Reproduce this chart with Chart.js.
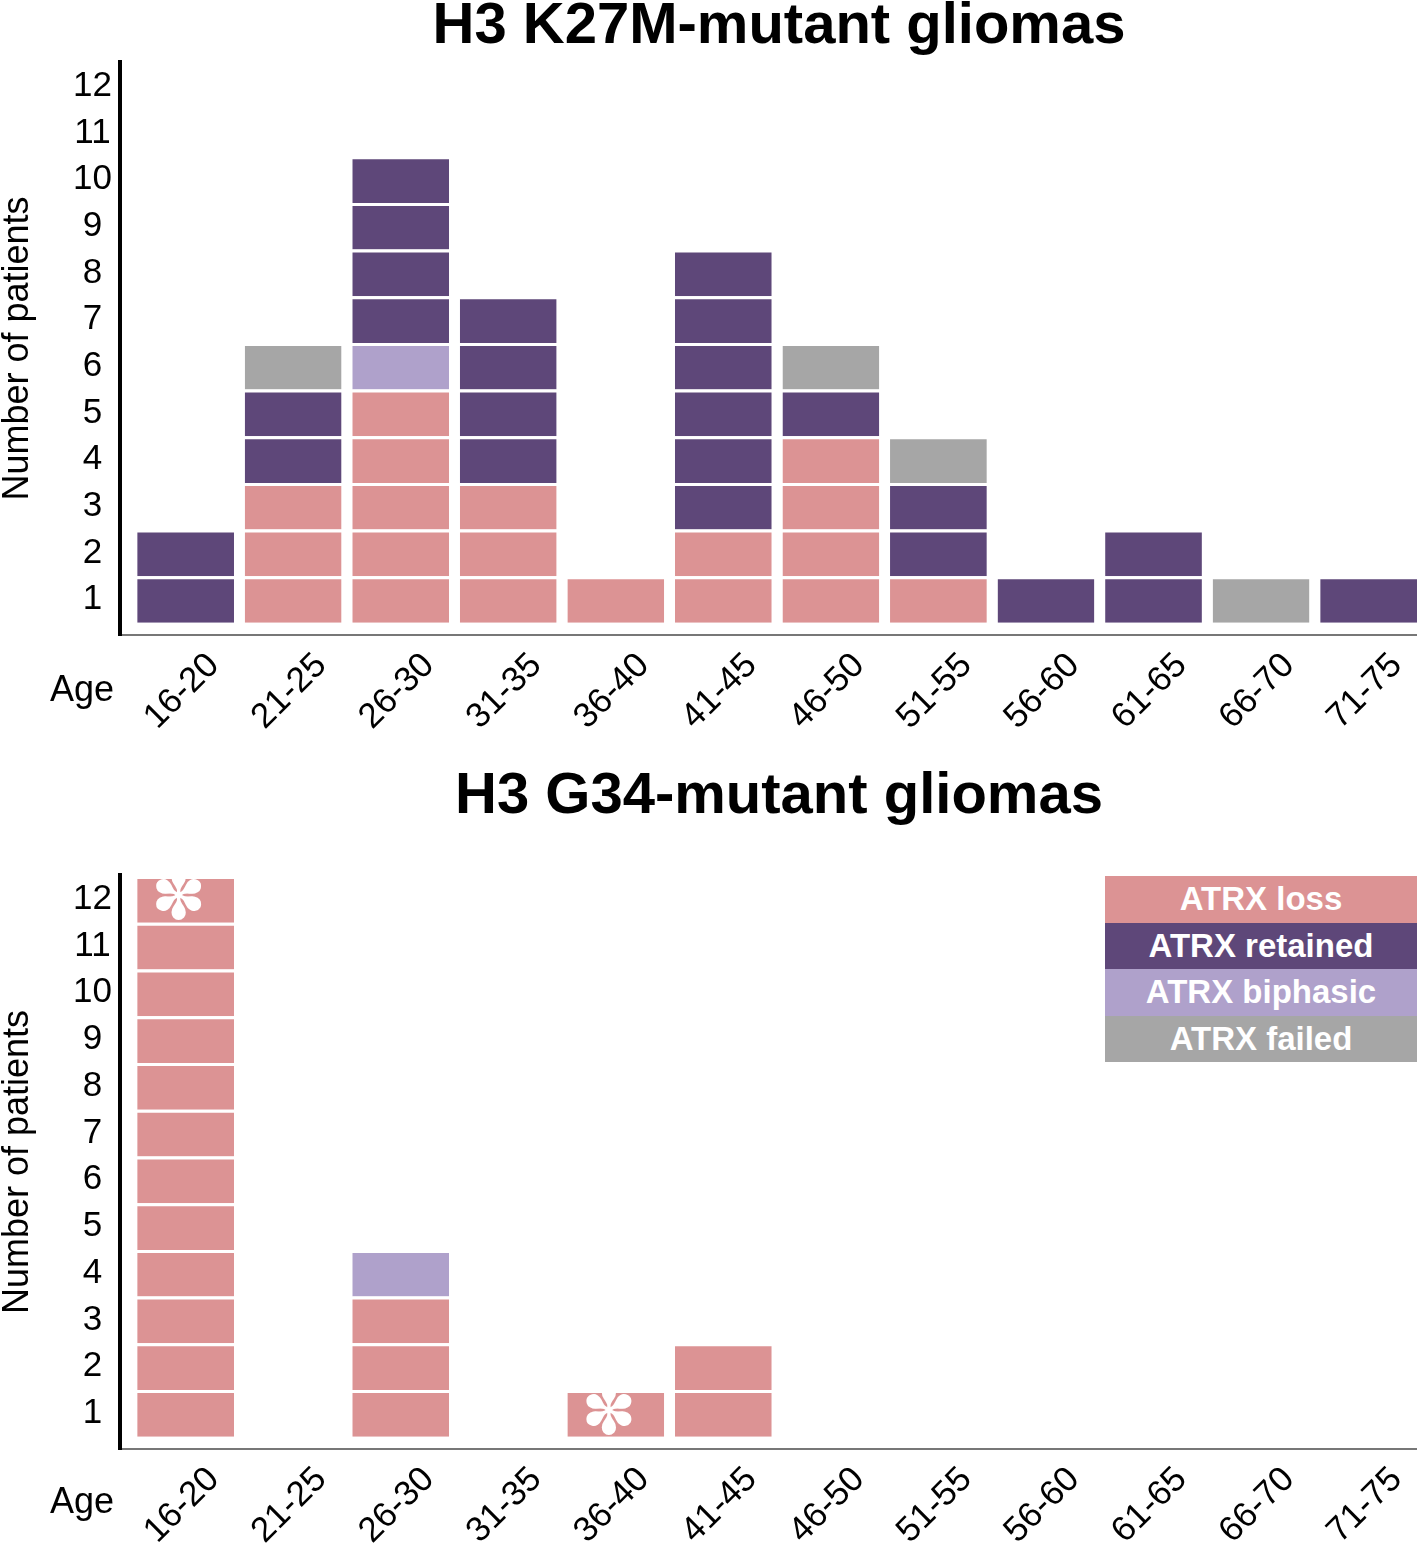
<!DOCTYPE html>
<html>
<head>
<meta charset="utf-8">
<script src="https://cdn.jsdelivr.net/npm/chart.js@4/dist/chart.umd.min.js"></script>
<style>
  html, body { margin: 0; padding: 0; background: #fff; overflow: hidden; }
  body { width: 1417px; height: 1546px; position: relative; font-family: "Liberation Sans", Arial, sans-serif; }
  canvas { position: absolute; left: 0; }
  .title { position: absolute; left: 779px; transform: translateX(-50%); white-space: nowrap;
           font-weight: bold; font-size: 58px; line-height: 58px; color: #000; }
  .age { position: absolute; left: 50px; font-size: 36px; line-height: 36px; color: #000; }
  #legend { position: absolute; left: 1105px; top: 876px; width: 312px; }
  #legend div { height: 46.5px; line-height: 46.5px; text-align: center; color: #fff;
                font-weight: bold; font-size: 33px; }
</style>
</head>
<body>
<canvas id="topChart" width="1417" height="760" style="top:0"></canvas>
<canvas id="bottomChart" width="1417" height="786" style="top:760px"></canvas>
<div class="title" style="top:-6px">H3 K27M-mutant gliomas</div>
<div class="title" style="top:764px">H3 G34-mutant gliomas</div>
<div class="age" style="top:671px">Age</div>
<div class="age" style="top:1483px">Age</div>
<div id="legend"></div>
<script>
// age groups on the x axis
var ageGroups = ['16-20', '21-25', '26-30', '31-35', '36-40', '41-45', '46-50', '51-55', '56-60', '61-65', '66-70', '71-75'];
var yTicks = ['1', '2', '3', '4', '5', '6', '7', '8', '9', '10', '11', '12'];

// H3 K27M-mutant gliomas (patients per age group)
var k27mLoss     = [0, 3, 5, 3, 1, 2, 4, 1, 0, 0, 0, 0];
var k27mBiphasic = [0, 0, 1, 0, 0, 0, 0, 0, 0, 0, 0, 0];
var k27mRetained = [2, 2, 4, 4, 0, 6, 1, 2, 1, 2, 0, 1];
var k27mFailed   = [0, 1, 0, 0, 0, 0, 1, 1, 0, 0, 1, 0];

// H3 G34-mutant gliomas
var g34Loss     = [12, 0, 3, 0, 1, 2, 0, 0, 0, 0, 0, 0];
var g34Biphasic = [0, 0, 1, 0, 0, 0, 0, 0, 0, 0, 0, 0];
var g34Retained = [0, 0, 0, 0, 0, 0, 0, 0, 0, 0, 0, 0];
var g34Failed   = [0, 0, 0, 0, 0, 0, 0, 0, 0, 0, 0, 0];
var g34Starred  = ['16-20', '36-40'];

var statusNames = ['ATRX loss', 'ATRX retained', 'ATRX biphasic', 'ATRX failed'];
var colors = {
    'ATRX loss': '#dc9394',
    'ATRX retained': '#5e4779',
    'ATRX biphasic': '#afa1cb',
    'ATRX failed': '#a6a6a6'
};

// legend boxes
var legendEl = document.getElementById('legend');
statusNames.forEach(function (name) {
    var d = document.createElement('div');
    d.textContent = name;
    d.style.background = colors[name];
    legendEl.appendChild(d);
});

// one dataset per layer of unit blocks, bottom to top: loss, biphasic, retained, failed
function buildLayers(loss, biphasic, retained, failed) {
    var columns = ageGroups.map(function (g, i) {
        var col = [];
        var order = [[loss, 'ATRX loss'], [biphasic, 'ATRX biphasic'], [retained, 'ATRX retained'], [failed, 'ATRX failed']];
        order.forEach(function (o) {
            for (var n = 0; n < o[0][i]; n++) col.push(o[1]);
        });
        return col;
    });
    var maxH = Math.max.apply(null, columns.map(function (c) { return c.length; }));
    var datasets = [];
    for (var layer = 0; layer < maxH; layer++) {
        datasets.push({
            label: 'layer ' + (layer + 1),
            data: columns.map(function (c, i) { return { x: i, y: c.length > layer ? 1 : null }; }),
            backgroundColor: columns.map(function (c) { return c.length > layer ? colors[c[layer]] : 'transparent'; }),
            borderColor: '#ffffff',
            borderWidth: { top: 3, right: 0, bottom: 0, left: 0 },
            borderSkipped: false,
            categoryPercentage: 1,
            barPercentage: 0.9
        });
    }
    return { datasets: datasets, columns: columns };
}

var starPlugin = {
    id: 'stars',
    afterDatasetsDraw: function (chart, args, opts) {
        if (!opts.groups) return;
        var ctx = chart.ctx;
        ctx.save();
        ctx.fillStyle = '#ffffff';
        ctx.font = '66px "DejaVu Sans"';
        ctx.textAlign = 'center';
        ctx.textBaseline = 'middle';
        opts.groups.forEach(function (g) {
            var i = ageGroups.indexOf(g);
            var top = opts.columns[i].length - 1;
            var el = chart.getDatasetMeta(top).data[i];
            ctx.fillText('\u273D', el.x - 7, (el.y + el.base) / 2 + 3);
        });
        ctx.restore();
    }
};

function makeChart(id, layers, padTop, xHeight, starred) {
    return new Chart(document.getElementById(id), {
        type: 'bar',
        data: { datasets: layers.datasets },
        plugins: [starPlugin],
        options: {
            responsive: false,
            animation: false,
            events: [],
            layout: { padding: { top: padTop, left: 0, right: 0, bottom: 0 } },
            plugins: {
                legend: { display: false },
                tooltip: { enabled: false },
                stars: { groups: starred, columns: layers.columns }
            },
            scales: {
                x: {
                    type: 'linear',
                    stacked: true,
                    offset: false,
                    min: -0.61,
                    max: 11.45,
                    afterBuildTicks: function (scale) {
                        scale.ticks = ageGroups.map(function (g, i) { return { value: i }; });
                    },
                    afterFit: function (scale) { scale.height = xHeight; },
                    grid: { display: false, drawTicks: false },
                    border: { display: true, color: '#777777', width: 2 },
                    ticks: {
                        autoSkip: false,
                        minRotation: 45,
                        maxRotation: 45,
                        padding: 10,
                        labelOffset: 28,
                        color: '#000',
                        font: { family: '"Liberation Sans", Arial, sans-serif', size: 35 },
                        callback: function (v, idx) { return ageGroups[idx]; }
                    }
                },
                y: {
                    stacked: true,
                    min: -0.26,
                    max: 12.02,
                    afterBuildTicks: function (scale) {
                        scale.ticks = yTicks.map(function (t, i) { return { value: i + 0.5 }; });
                    },
                    afterFit: function (scale) { scale.width = 120; },
                    grid: { display: false, drawTicks: false },
                    border: { display: true, color: '#000000', width: 4 },
                    ticks: {
                        padding: 8,
                        crossAlign: 'center',
                        color: '#000',
                        font: { family: '"Liberation Sans", Arial, sans-serif', size: 35 },
                        callback: function (v, idx) { return yTicks[idx]; }
                    },
                    title: {
                        display: true,
                        text: 'Number of patients',
                        color: '#000',
                        padding: 0,
                        font: { family: '"Liberation Sans", Arial, sans-serif', size: 36, lineHeight: 1 }
                    }
                }
            }
        }
    });
}

makeChart('topChart', buildLayers(k27mLoss, k27mBiphasic, k27mRetained, k27mFailed), 62, 125, null);
makeChart('bottomChart', buildLayers(g34Loss, g34Biphasic, g34Retained, g34Failed), 115, 97, g34Starred);
</script>
</body>
</html>
